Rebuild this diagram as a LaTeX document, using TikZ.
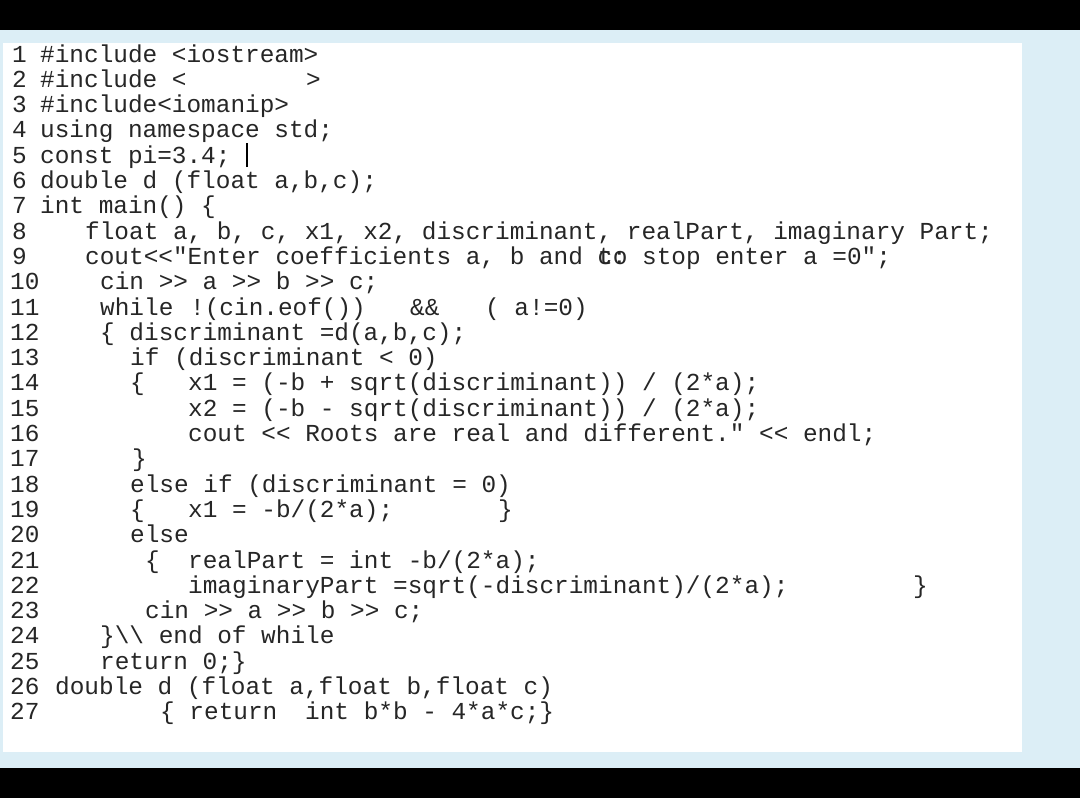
\documentclass[tikz,border=0pt]{standalone}
\usepackage{fontspec}
\setmonofont{Liberation Mono}
\definecolor{bgblue}{RGB}{220,238,246}
\tikzset{code/.style={anchor=base west,inner sep=0pt,font=\ttfamily\fontsize{24.4}{26}\selectfont,text=black!85}}
\newcommand\codeln[3]{\node[code] (l#1x#2) at (#2,{62+25.3*(#1-1)}) {#3};}
\begin{document}
\begin{tikzpicture}[x=1pt,y=-1pt]
\fill[black] (0,0) rectangle (1080,798);
\fill[bgblue] (0,30) rectangle (1080,768);
\fill[white] (3,43) rectangle (1022,752);
\foreach \n in {1,...,9}{\node[code] (num\n) at (12,{62+25.3*(\n-1)}) {\n};}
\foreach \n in {10,...,27}{\node[code] (num\n) at (10,{62+25.3*(\n-1)}) {\n};}
\codeln{1}{40}{\#include <iostream>}
\codeln{2}{40}{\#include <}
\codeln{2}{306}{>}
\codeln{3}{40}{\#include<iomanip>}
\codeln{4}{40}{using namespace std;}
\codeln{5}{40}{const pi=3.4;}
\draw[line width=1.2pt] (247,{62+25.3*4+4}) -- (247,{62+25.3*4-20});
\codeln{6}{40}{double d (float a,b,c);}
\codeln{7}{40}{int main() \{}
\codeln{8}{85}{float a, b, c, x1, x2, discriminant, realPart, imaginary Part;}
\codeln{9}{85}{cout<<"Enter coefficients a, b and c:}
\codeln{9}{598}{to stop enter a =0";}
\codeln{10}{100}{cin >> a >> b >> c;}
\codeln{11}{100}{while}
\codeln{11}{190}{!(cin.eof())}
\codeln{11}{410}{\&\&}
\codeln{11}{485}{( a!=0)}
\codeln{12}{100}{\{ discriminant =d(a,b,c);}
\codeln{13}{130}{if (discriminant < 0)}
\codeln{14}{130}{\{}
\codeln{14}{188}{x1 = (-b + sqrt(discriminant)) / (2*a);}
\codeln{15}{188}{x2 = (-b - sqrt(discriminant)) / (2*a);}
\codeln{16}{188}{cout << Roots are real and different." << endl;}
\codeln{17}{132}{\}}
\codeln{18}{130}{else if (discriminant = 0)}
\codeln{19}{130}{\{}
\codeln{19}{188}{x1 = -b/(2*a);}
\codeln{19}{498}{\}}
\codeln{20}{130}{else}
\codeln{21}{145}{\{}
\codeln{21}{188}{realPart = int -b/(2*a);}
\codeln{22}{188}{imaginaryPart =sqrt(-discriminant)/(2*a);}
\codeln{22}{913}{\}}
\codeln{23}{145}{cin >> a >> b >> c;}
\codeln{24}{100}{\}\textbackslash\textbackslash{} end of while}
\codeln{25}{100}{return 0;\}}
\codeln{26}{55}{double d (float a,float b,float c)}
\codeln{27}{160}{\{ return}
\codeln{27}{305}{int b*b - 4*a*c;\}}
\end{tikzpicture}
\end{document}
